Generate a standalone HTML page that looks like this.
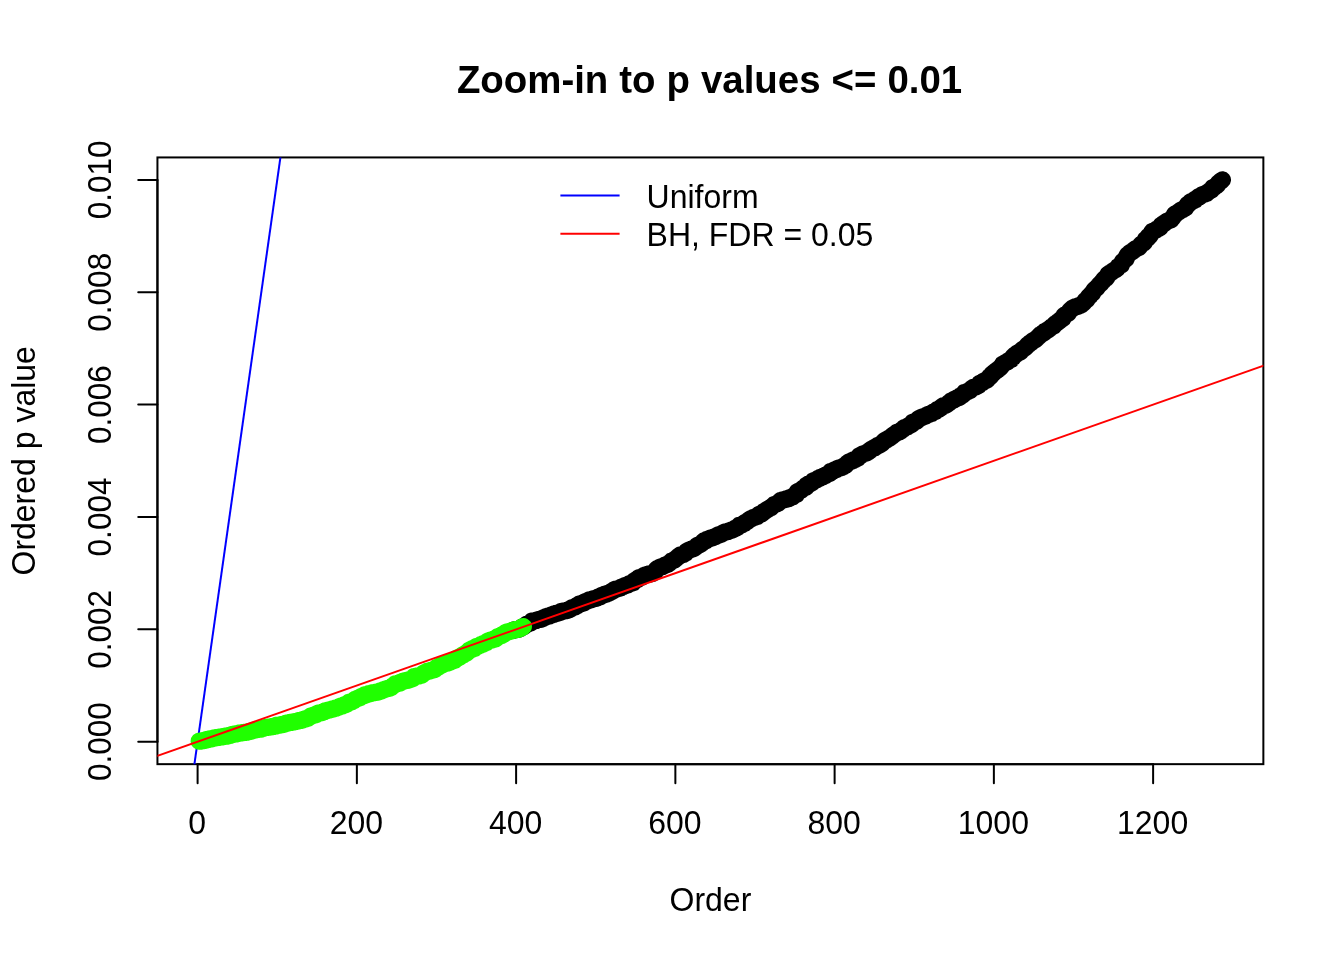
<!DOCTYPE html>
<html lang="en"><head><meta charset="utf-8"><title>Zoom-in to p values &lt;= 0.01</title>
<style>
html,body{margin:0;padding:0;background:#fff;}
body{width:1344px;height:960px;overflow:hidden;}
svg{display:block;will-change:transform;}
text{font-family:"Liberation Sans",Arial,Helvetica,sans-serif;fill:#000;}
.t{font-size:32px;}
.main{font-size:38.4px;font-weight:bold;word-spacing:0.35px;}
.ax{stroke:#000;stroke-width:2;fill:none;stroke-linecap:round;}
.cloud{fill:none;stroke-width:17.3;stroke-linecap:round;stroke-linejoin:round;}
</style></head><body>
<svg width="1344" height="960" viewBox="0 0 1344 960">
<rect x="0" y="0" width="1344" height="960" fill="#ffffff"/>
<defs><clipPath id="plt"><rect x="157.44" y="157.44" width="1105.92" height="606.72"/></clipPath></defs>
<polyline class="cloud" stroke="#000000" points="513.7,630.1 514.5,629.8 515.3,629.7 516.1,629.6 516.9,629.5 517.7,629.3 518.5,629.1 519.3,628.8 520.1,628.6 520.9,627.9 521.7,627.6 522.5,626.8 523.3,626.6 524.1,626.5 524.9,625.7 525.7,625.3 526.5,624.4 527.3,624.1 528.1,623.9 528.9,623.7 529.6,623.1 530.4,623.0 531.2,622.6 532.0,621.2 532.8,621.1 533.6,621.0 534.4,620.8 535.2,620.7 536.0,620.5 536.8,620.1 537.6,619.9 538.4,619.7 539.2,619.5 540.0,619.4 540.8,619.2 541.6,619.1 542.4,619.0 543.2,617.8 544.0,617.7 544.8,617.3 545.6,617.1 546.4,616.5 547.2,616.4 548.0,616.1 548.8,616.0 549.6,615.8 550.4,615.5 551.1,615.1 551.9,614.8 552.7,614.5 553.5,614.3 554.3,613.8 555.1,613.7 555.9,613.5 556.7,613.4 557.5,613.1 558.3,613.0 559.1,612.7 559.9,612.4 560.7,611.7 561.5,611.6 562.3,611.4 563.1,611.1 563.9,610.8 564.7,610.8 565.5,610.7 566.3,610.6 567.1,610.4 567.9,610.1 568.7,609.7 569.5,609.5 570.3,609.1 571.1,608.6 571.8,607.8 572.6,607.5 573.4,607.4 574.2,607.1 575.0,606.9 575.8,606.4 576.6,605.7 577.4,605.5 578.2,604.9 579.0,604.2 579.8,604.1 580.6,603.9 581.4,603.5 582.2,603.2 583.0,603.1 583.8,602.9 584.6,602.1 585.4,601.7 586.2,601.4 587.0,601.1 587.8,600.7 588.6,600.6 589.4,600.0 590.2,599.8 591.0,599.7 591.8,599.6 592.6,599.0 593.3,598.8 594.1,598.6 594.9,598.5 595.7,598.3 596.5,598.0 597.3,597.8 598.1,597.2 598.9,597.0 599.7,596.9 600.5,596.6 601.3,595.7 602.1,595.4 602.9,595.1 603.7,595.0 604.5,594.4 605.3,594.3 606.1,594.1 606.9,593.6 607.7,593.5 608.5,593.4 609.3,592.8 610.1,592.4 610.9,591.8 611.7,591.5 612.5,590.9 613.3,590.8 614.1,589.8 614.8,589.4 615.6,589.3 616.4,589.1 617.2,589.0 618.0,588.5 618.8,588.4 619.6,588.1 620.4,588.0 621.2,587.1 622.0,587.0 622.8,586.7 623.6,586.3 624.4,585.9 625.2,585.6 626.0,585.3 626.8,585.1 627.6,584.9 628.4,584.4 629.2,583.8 630.0,583.6 630.8,583.4 631.6,583.0 632.4,582.8 633.2,582.6 634.0,581.2 634.8,580.7 635.6,580.5 636.3,579.5 637.1,579.2 637.9,579.1 638.7,577.9 639.5,577.6 640.3,577.5 641.1,577.3 641.9,577.1 642.7,576.5 643.5,576.0 644.3,575.3 645.1,575.2 645.9,574.9 646.7,574.7 647.5,574.5 648.3,574.2 649.1,574.0 649.9,573.9 650.7,573.8 651.5,573.7 652.3,573.4 653.1,573.0 653.9,572.2 654.7,571.9 655.5,571.5 656.3,569.3 657.1,568.8 657.8,568.3 658.6,568.1 659.4,567.7 660.2,567.2 661.0,567.0 661.8,566.7 662.6,566.5 663.4,566.1 664.2,565.7 665.0,565.1 665.8,564.9 666.6,564.7 667.4,564.2 668.2,564.0 669.0,563.3 669.8,562.8 670.6,562.1 671.4,561.0 672.2,560.9 673.0,560.5 673.8,560.1 674.6,559.8 675.4,559.2 676.2,558.3 677.0,557.7 677.8,557.2 678.5,556.2 679.3,555.8 680.1,555.2 680.9,555.1 681.7,554.8 682.5,554.5 683.3,554.3 684.1,553.8 684.9,553.3 685.7,553.1 686.5,551.5 687.3,551.1 688.1,550.8 688.9,550.1 689.7,549.9 690.5,549.5 691.3,549.2 692.1,549.0 692.9,548.9 693.7,548.4 694.5,548.1 695.3,547.4 696.1,546.8 696.9,545.8 697.7,545.3 698.5,545.0 699.3,544.8 700.0,544.6 700.8,544.0 701.6,543.4 702.4,542.7 703.2,541.6 704.0,541.0 704.8,540.8 705.6,540.7 706.4,540.5 707.2,539.4 708.0,539.3 708.8,538.9 709.6,538.6 710.4,538.1 711.2,538.0 712.0,537.9 712.8,537.6 713.6,537.2 714.4,537.0 715.2,536.7 716.0,536.2 716.8,535.8 717.6,535.4 718.4,534.9 719.2,534.8 720.0,534.5 720.8,534.3 721.5,534.1 722.3,533.5 723.1,532.8 723.9,532.5 724.7,532.2 725.5,532.1 726.3,531.9 727.1,531.7 727.9,531.5 728.7,531.1 729.5,531.0 730.3,530.5 731.1,530.2 731.9,530.1 732.7,529.6 733.5,529.3 734.3,528.9 735.1,528.4 735.9,528.1 736.7,527.8 737.5,527.5 738.3,526.3 739.1,525.5 739.9,525.3 740.7,525.2 741.5,524.9 742.3,524.2 743.0,524.1 743.8,523.5 744.6,523.3 745.4,522.3 746.2,522.0 747.0,521.6 747.8,521.0 748.6,520.2 749.4,519.6 750.2,519.3 751.0,518.6 751.8,518.4 752.6,518.0 753.4,517.6 754.2,517.5 755.0,517.2 755.8,516.6 756.6,516.4 757.4,516.3 758.2,515.5 759.0,514.4 759.8,514.2 760.6,514.0 761.4,513.9 762.2,513.5 763.0,512.6 763.7,511.6 764.5,511.3 765.3,511.1 766.1,510.4 766.9,509.5 767.7,509.2 768.5,508.9 769.3,508.4 770.1,507.9 770.9,507.6 771.7,507.1 772.5,506.2 773.3,505.7 774.1,504.7 774.9,504.5 775.7,504.0 776.5,503.9 777.3,503.5 778.1,503.2 778.9,502.5 779.7,501.3 780.5,500.7 781.3,500.6 782.1,500.2 782.9,500.1 783.7,499.9 784.5,499.5 785.2,499.4 786.0,499.0 786.8,499.0 787.6,498.8 788.4,498.7 789.2,498.0 790.0,497.8 790.8,497.3 791.6,497.2 792.4,496.9 793.2,496.2 794.0,495.6 794.8,495.1 795.6,494.6 796.4,494.4 797.2,492.0 798.0,491.9 798.8,491.1 799.6,490.9 800.4,490.4 801.2,490.1 802.0,489.3 802.8,488.4 803.6,488.2 804.4,487.8 805.2,487.6 806.0,487.2 806.7,485.1 807.5,484.8 808.3,484.2 809.1,484.0 809.9,483.9 810.7,483.1 811.5,482.9 812.3,482.5 813.1,481.0 813.9,480.8 814.7,480.5 815.5,480.1 816.3,479.9 817.1,479.5 817.9,478.7 818.7,478.6 819.5,478.4 820.3,477.4 821.1,477.3 821.9,477.0 822.7,476.8 823.5,476.2 824.3,476.0 825.1,475.7 825.9,474.8 826.7,474.7 827.5,474.1 828.2,473.8 829.0,473.5 829.8,473.3 830.6,471.6 831.4,471.5 832.2,471.3 833.0,471.2 833.8,470.4 834.6,469.9 835.4,469.8 836.2,469.6 837.0,468.8 837.8,468.3 838.6,468.1 839.4,468.0 840.2,467.9 841.0,467.7 841.8,467.0 842.6,466.7 843.4,466.5 844.2,465.9 845.0,465.6 845.8,465.2 846.6,464.1 847.4,463.2 848.2,462.6 849.0,462.0 849.7,461.9 850.5,461.4 851.3,461.3 852.1,460.7 852.9,460.5 853.7,459.9 854.5,459.7 855.3,459.4 856.1,458.9 856.9,458.6 857.7,458.4 858.5,457.0 859.3,455.8 860.1,455.5 860.9,455.1 861.7,455.0 862.5,454.1 863.3,453.8 864.1,453.6 864.9,453.5 865.7,453.2 866.5,452.9 867.3,452.1 868.1,452.0 868.9,451.4 869.7,450.8 870.4,450.0 871.2,449.4 872.0,448.9 872.8,448.5 873.6,448.1 874.4,447.9 875.2,447.2 876.0,446.5 876.8,446.4 877.6,445.6 878.4,445.5 879.2,445.1 880.0,444.7 880.8,444.2 881.6,443.7 882.4,443.2 883.2,442.2 884.0,441.0 884.8,440.5 885.6,440.3 886.4,440.0 887.2,439.3 888.0,438.9 888.8,438.4 889.6,438.1 890.4,437.4 891.2,436.9 891.9,436.0 892.7,435.8 893.5,434.9 894.3,434.3 895.1,433.8 895.9,433.4 896.7,432.5 897.5,432.3 898.3,432.2 899.1,431.9 899.9,431.5 900.7,431.3 901.5,430.1 902.3,429.7 903.1,429.5 903.9,427.9 904.7,427.6 905.5,427.5 906.3,427.2 907.1,426.9 907.9,426.2 908.7,425.5 909.5,425.4 910.3,425.0 911.1,424.7 911.9,424.2 912.7,422.2 913.4,422.0 914.2,421.9 915.0,421.6 915.8,421.2 916.6,421.1 917.4,420.3 918.2,419.0 919.0,418.5 919.8,418.2 920.6,418.0 921.4,417.4 922.2,417.3 923.0,416.8 923.8,416.5 924.6,416.4 925.4,416.2 926.2,415.4 927.0,415.0 927.8,414.7 928.6,414.6 929.4,414.2 930.2,413.8 931.0,413.5 931.8,413.4 932.6,412.6 933.4,412.1 934.2,411.8 934.9,411.5 935.7,411.3 936.5,410.4 937.3,409.6 938.1,409.4 938.9,409.1 939.7,408.6 940.5,407.8 941.3,407.6 942.1,406.5 942.9,406.0 943.7,405.8 944.5,405.6 945.3,405.5 946.1,405.0 946.9,404.5 947.7,404.1 948.5,403.2 949.3,402.7 950.1,402.0 950.9,401.2 951.7,400.9 952.5,400.4 953.3,400.2 954.1,399.3 954.9,399.0 955.7,398.8 956.4,398.6 957.2,398.0 958.0,397.8 958.8,397.7 959.6,397.2 960.4,396.0 961.2,395.8 962.0,395.0 962.8,394.9 963.6,394.5 964.4,392.6 965.2,392.5 966.0,392.2 966.8,391.9 967.6,391.4 968.4,391.2 969.2,390.7 970.0,390.4 970.8,389.7 971.6,388.6 972.4,388.2 973.2,387.5 974.0,387.3 974.8,387.1 975.6,387.0 976.4,386.6 977.1,386.1 977.9,385.8 978.7,385.5 979.5,383.6 980.3,383.2 981.1,383.0 981.9,382.8 982.7,382.4 983.5,381.1 984.3,380.9 985.1,380.7 985.9,380.5 986.7,380.2 987.5,378.9 988.3,378.7 989.1,377.2 989.9,376.9 990.7,376.4 991.5,374.7 992.3,373.8 993.1,373.6 993.9,372.6 994.7,371.9 995.5,371.4 996.3,370.8 997.1,370.0 997.9,369.6 998.6,369.0 999.4,368.3 1000.2,367.9 1001.0,366.9 1001.8,365.9 1002.6,364.3 1003.4,363.9 1004.2,363.5 1005.0,362.8 1005.8,362.5 1006.6,362.2 1007.4,361.9 1008.2,360.8 1009.0,360.5 1009.8,360.0 1010.6,359.5 1011.4,359.3 1012.2,357.7 1013.0,357.5 1013.8,355.8 1014.6,355.2 1015.4,354.6 1016.2,354.3 1017.0,353.4 1017.8,352.9 1018.6,352.5 1019.4,352.3 1020.1,352.1 1020.9,351.3 1021.7,350.1 1022.5,349.5 1023.3,349.1 1024.1,348.4 1024.9,347.8 1025.7,347.4 1026.5,346.4 1027.3,345.3 1028.1,344.6 1028.9,344.3 1029.7,343.2 1030.5,342.9 1031.3,342.5 1032.1,341.3 1032.9,340.8 1033.7,340.5 1034.5,339.8 1035.3,339.6 1036.1,339.1 1036.9,338.1 1037.7,337.5 1038.5,336.7 1039.3,336.0 1040.1,335.0 1040.9,334.8 1041.6,334.2 1042.4,333.4 1043.2,333.1 1044.0,332.6 1044.8,331.4 1045.6,331.2 1046.4,330.8 1047.2,330.2 1048.0,329.9 1048.8,329.3 1049.6,328.7 1050.4,327.9 1051.2,327.3 1052.0,326.6 1052.8,326.3 1053.6,326.1 1054.4,324.7 1055.2,323.9 1056.0,323.6 1056.8,322.9 1057.6,322.1 1058.4,321.8 1059.2,320.8 1060.0,320.6 1060.8,319.7 1061.6,318.9 1062.4,318.7 1063.1,318.3 1063.9,315.7 1064.7,315.1 1065.5,314.7 1066.3,314.4 1067.1,313.8 1067.9,313.5 1068.7,312.5 1069.5,311.1 1070.3,310.1 1071.1,309.5 1071.9,309.0 1072.7,308.0 1073.5,307.7 1074.3,307.4 1075.1,307.0 1075.9,306.8 1076.7,306.7 1077.5,306.4 1078.3,305.9 1079.1,305.8 1079.9,305.4 1080.7,305.0 1081.5,304.7 1082.3,303.9 1083.1,303.3 1083.8,302.8 1084.6,301.5 1085.4,300.4 1086.2,300.1 1087.0,299.5 1087.8,298.1 1088.6,296.8 1089.4,296.1 1090.2,295.6 1091.0,294.4 1091.8,293.2 1092.6,293.0 1093.4,291.3 1094.2,290.0 1095.0,289.3 1095.8,288.5 1096.6,288.1 1097.4,287.3 1098.2,286.0 1099.0,285.2 1099.8,284.1 1100.6,283.8 1101.4,282.8 1102.2,281.6 1103.0,281.3 1103.8,279.3 1104.6,278.7 1105.3,278.5 1106.1,278.2 1106.9,277.3 1107.7,274.7 1108.5,274.2 1109.3,274.1 1110.1,273.0 1110.9,272.4 1111.7,272.0 1112.5,271.4 1113.3,270.9 1114.1,270.3 1114.9,269.8 1115.7,269.5 1116.5,268.9 1117.3,268.4 1118.1,266.5 1118.9,266.2 1119.7,265.8 1120.5,265.1 1121.3,264.9 1122.1,262.3 1122.9,261.2 1123.7,261.0 1124.5,259.7 1125.3,259.3 1126.1,258.8 1126.8,256.0 1127.6,254.9 1128.4,254.4 1129.2,253.5 1130.0,252.7 1130.8,252.3 1131.6,252.0 1132.4,251.6 1133.2,250.6 1134.0,250.3 1134.8,249.2 1135.6,248.8 1136.4,248.4 1137.2,248.1 1138.0,247.8 1138.8,247.4 1139.6,246.7 1140.4,245.4 1141.2,244.1 1142.0,243.9 1142.8,243.3 1143.6,243.0 1144.4,242.3 1145.2,239.6 1146.0,239.1 1146.8,238.8 1147.6,238.4 1148.3,236.5 1149.1,236.3 1149.9,235.9 1150.7,234.3 1151.5,232.9 1152.3,231.4 1153.1,231.2 1153.9,230.8 1154.7,230.5 1155.5,230.1 1156.3,229.8 1157.1,229.1 1157.9,228.7 1158.7,228.4 1159.5,227.8 1160.3,227.3 1161.1,225.4 1161.9,225.2 1162.7,224.2 1163.5,224.0 1164.3,223.7 1165.1,222.7 1165.9,222.2 1166.7,221.5 1167.5,221.1 1168.3,220.8 1169.1,220.5 1169.8,220.3 1170.6,219.9 1171.4,219.5 1172.2,217.9 1173.0,217.5 1173.8,216.0 1174.6,214.4 1175.4,213.9 1176.2,213.6 1177.0,213.1 1177.8,212.4 1178.6,211.8 1179.4,211.4 1180.2,210.8 1181.0,210.1 1181.8,209.8 1182.6,209.6 1183.4,209.0 1184.2,208.4 1185.0,208.1 1185.8,207.8 1186.6,206.0 1187.4,204.7 1188.2,204.2 1189.0,203.8 1189.8,203.1 1190.5,202.0 1191.3,201.6 1192.1,201.3 1192.9,200.9 1193.7,200.2 1194.5,200.1 1195.3,199.9 1196.1,198.5 1196.9,198.2 1197.7,197.6 1198.5,197.0 1199.3,196.8 1200.1,196.3 1200.9,195.7 1201.7,195.1 1202.5,194.6 1203.3,194.4 1204.1,194.1 1204.9,194.0 1205.7,193.6 1206.5,193.5 1207.3,192.5 1208.1,192.1 1208.9,191.4 1209.7,191.0 1210.5,190.2 1211.3,190.1 1212.0,189.5 1212.8,187.6 1213.6,187.4 1214.4,187.2 1215.2,186.3 1216.0,185.8 1216.8,185.6 1217.6,184.7 1218.4,183.1 1219.2,182.3 1220.0,181.7 1220.8,181.2 1222.4,179.9"/>
<rect class="ax" x="157.44" y="157.44" width="1105.92" height="606.72"/>
<g clip-path="url(#plt)">
<line x1="149.83" y1="1078.76" x2="356.86" y2="-381.87" stroke="#0000FF" stroke-width="2"/>
</g>
<polyline class="cloud" stroke="#20FF00" points="199.2,741.2 200.0,741.2 200.8,741.1 201.6,741.0 202.4,740.7 203.2,740.7 204.0,740.5 204.8,740.4 205.6,740.2 206.4,739.7 207.2,739.6 208.0,739.5 208.8,739.3 209.5,739.0 210.3,739.0 211.1,738.9 211.9,738.7 212.7,738.6 213.5,738.2 214.3,738.0 215.1,737.8 215.9,737.7 216.7,737.7 217.5,737.5 218.3,737.4 219.1,737.3 219.9,737.2 220.7,737.0 221.5,736.9 222.3,736.8 223.1,736.7 223.9,736.5 224.7,736.4 225.5,736.1 226.3,736.0 227.1,736.0 227.9,735.8 228.7,735.7 229.5,735.3 230.3,735.2 231.0,734.9 231.8,734.7 232.6,734.5 233.4,734.4 234.2,734.1 235.0,734.0 235.8,733.9 236.6,733.8 237.4,733.6 238.2,733.4 239.0,733.2 239.8,733.1 240.6,733.0 241.4,732.8 242.2,732.7 243.0,732.6 243.8,732.5 244.6,732.4 245.4,732.3 246.2,732.1 247.0,732.1 247.8,731.8 248.6,731.6 249.4,731.5 250.2,731.4 251.0,731.2 251.7,731.0 252.5,730.6 253.3,730.3 254.1,730.1 254.9,730.0 255.7,729.9 256.5,729.6 257.3,729.5 258.1,729.3 258.9,729.2 259.7,729.1 260.5,729.0 261.3,729.0 262.1,728.6 262.9,728.5 263.7,728.1 264.5,727.9 265.3,727.7 266.1,727.5 266.9,727.4 267.7,727.3 268.5,727.2 269.3,727.1 270.1,727.0 270.9,726.9 271.7,726.7 272.5,726.6 273.2,726.5 274.0,726.3 274.8,726.2 275.6,726.0 276.4,725.4 277.2,725.3 278.0,725.1 278.8,725.1 279.6,725.0 280.4,725.0 281.2,724.7 282.0,724.6 282.8,724.4 283.6,724.3 284.4,724.2 285.2,723.7 286.0,723.3 286.8,723.2 287.6,723.1 288.4,723.0 289.2,722.7 290.0,722.5 290.8,722.4 291.6,722.3 292.4,722.2 293.2,722.0 294.0,721.9 294.7,721.6 295.5,721.5 296.3,721.3 297.1,721.2 297.9,721.0 298.7,720.7 299.5,720.6 300.3,720.5 301.1,720.4 301.9,720.2 302.7,719.5 303.5,719.4 304.3,719.1 305.1,718.9 305.9,718.8 306.7,718.5 307.5,718.2 308.3,718.1 309.1,717.4 309.9,716.7 310.7,716.1 311.5,715.9 312.3,715.8 313.1,715.4 313.9,715.1 314.7,715.0 315.5,714.7 316.2,714.6 317.0,713.7 317.8,713.5 318.6,713.1 319.4,713.0 320.2,712.9 321.0,712.7 321.8,712.6 322.6,711.8 323.4,711.8 324.2,711.7 325.0,711.0 325.8,710.8 326.6,710.7 327.4,710.3 328.2,710.1 329.0,710.0 329.8,709.8 330.6,709.7 331.4,709.4 332.2,709.0 333.0,708.9 333.8,708.8 334.6,708.7 335.4,708.2 336.2,708.2 337.0,707.7 337.7,707.5 338.5,707.2 339.3,706.8 340.1,706.3 340.9,706.1 341.7,706.0 342.5,705.8 343.3,705.5 344.1,704.8 344.9,704.7 345.7,704.5 346.5,704.1 347.3,703.8 348.1,703.1 348.9,702.3 349.7,702.2 350.5,702.1 351.3,701.9 352.1,701.5 352.9,701.0 353.7,700.9 354.5,699.8 355.3,699.3 356.1,699.0 356.9,698.9 357.7,698.3 358.4,698.1 359.2,697.8 360.0,697.6 360.8,696.8 361.6,696.3 362.4,696.1 363.2,696.0 364.0,695.7 364.8,694.9 365.6,694.8 366.4,694.7 367.2,694.6 368.0,694.0 368.8,693.7 369.6,693.7 370.4,693.6 371.2,693.6 372.0,692.9 372.8,692.8 373.6,692.6 374.4,692.6 375.2,692.4 376.0,692.3 376.8,692.2 377.6,692.1 378.4,691.8 379.2,691.3 379.9,691.1 380.7,690.9 381.5,690.8 382.3,690.5 383.1,690.0 383.9,689.8 384.7,689.7 385.5,689.1 386.3,688.8 387.1,688.6 387.9,688.4 388.7,688.3 389.5,688.1 390.3,687.8 391.1,687.5 391.9,686.8 392.7,685.9 393.5,685.5 394.3,685.1 395.1,684.0 395.9,683.8 396.7,683.7 397.5,683.5 398.3,683.3 399.1,683.2 399.9,683.0 400.7,682.1 401.4,682.0 402.2,681.7 403.0,681.3 403.8,681.2 404.6,680.9 405.4,680.6 406.2,680.5 407.0,680.3 407.8,680.3 408.6,679.9 409.4,679.8 410.2,679.7 411.0,679.1 411.8,678.8 412.6,678.7 413.4,678.2 414.2,676.6 415.0,676.5 415.8,676.3 416.6,676.2 417.4,676.1 418.2,676.0 419.0,675.8 419.8,675.5 420.6,675.3 421.4,675.2 422.2,674.8 422.9,673.7 423.7,673.0 424.5,672.7 425.3,672.6 426.1,672.0 426.9,671.5 427.7,671.3 428.5,671.0 429.3,670.9 430.1,670.8 430.9,670.3 431.7,670.2 432.5,670.0 433.3,669.8 434.1,669.7 434.9,669.3 435.7,668.5 436.5,667.7 437.3,667.4 438.1,667.1 438.9,666.6 439.7,665.9 440.5,665.6 441.3,665.1 442.1,664.8 442.9,664.3 443.7,663.9 444.4,663.7 445.2,663.4 446.0,663.3 446.8,663.2 447.6,663.0 448.4,662.9 449.2,662.3 450.0,662.1 450.8,661.5 451.6,661.3 452.4,660.9 453.2,660.8 454.0,660.4 454.8,660.2 455.6,659.5 456.4,658.3 457.2,658.1 458.0,657.9 458.8,657.4 459.6,657.1 460.4,656.5 461.2,656.0 462.0,655.5 462.8,654.8 463.6,654.7 464.4,654.0 465.1,653.8 465.9,653.2 466.7,653.0 467.5,652.2 468.3,651.4 469.1,650.4 469.9,650.1 470.7,649.5 471.5,649.4 472.3,648.7 473.1,648.6 473.9,648.5 474.7,648.4 475.5,647.3 476.3,646.6 477.1,646.3 477.9,646.2 478.7,645.8 479.5,645.6 480.3,645.2 481.1,644.7 481.9,644.4 482.7,644.0 483.5,643.8 484.3,643.5 485.1,643.0 485.9,642.7 486.6,642.5 487.4,641.4 488.2,641.1 489.0,640.6 489.8,640.4 490.6,640.1 491.4,640.0 492.2,639.8 493.0,639.4 493.8,639.3 494.6,639.1 495.4,638.9 496.2,638.4 497.0,637.5 497.8,636.6 498.6,636.5 499.4,636.2 500.2,635.9 501.0,635.7 501.8,635.0 502.6,634.8 503.4,634.2 504.2,633.9 505.0,633.5 505.8,632.4 506.6,632.2 507.4,632.1 508.1,631.8 508.9,631.7 509.7,631.3 510.5,631.1 511.3,631.0 512.1,630.6 512.9,630.5 513.7,630.1 514.5,629.8 515.3,629.7 516.1,629.6 516.9,629.5 517.7,629.3 518.5,629.1 519.3,628.8 520.1,628.6 520.9,627.9 521.7,627.6 522.5,626.8 523.3,626.6"/>
<g clip-path="url(#plt)">
<line x1="149.83" y1="758.54" x2="1312.38" y2="348.44" stroke="#FF0000" stroke-width="2"/>
</g>
<path class="ax" d="M197.60 764.16H1153.12"/>
<path class="ax" d="M197.60 764.16v19.2"/>
<text class="t" transform="translate(197.10 833.80) scale(1.0000 1.0450)" text-anchor="middle">0</text>
<path class="ax" d="M356.86 764.16v19.2"/>
<text class="t" transform="translate(356.36 833.80) scale(1.0000 1.0450)" text-anchor="middle">200</text>
<path class="ax" d="M516.11 764.16v19.2"/>
<text class="t" transform="translate(515.61 833.80) scale(1.0000 1.0450)" text-anchor="middle">400</text>
<path class="ax" d="M675.36 764.16v19.2"/>
<text class="t" transform="translate(674.86 833.80) scale(1.0000 1.0450)" text-anchor="middle">600</text>
<path class="ax" d="M834.62 764.16v19.2"/>
<text class="t" transform="translate(834.12 833.80) scale(1.0000 1.0450)" text-anchor="middle">800</text>
<path class="ax" d="M993.87 764.16v19.2"/>
<text class="t" transform="translate(993.37 833.80) scale(1.0000 1.0450)" text-anchor="middle">1000</text>
<path class="ax" d="M1153.12 764.16v19.2"/>
<text class="t" transform="translate(1152.62 833.80) scale(1.0000 1.0450)" text-anchor="middle">1200</text>
<path class="ax" d="M157.44 741.69V179.91"/>
<path class="ax" d="M157.44 741.69h-19.2"/>
<text class="t" transform="translate(111.00 741.69) rotate(-90) scale(0.9850 1.0450)" text-anchor="middle">0.000</text>
<path class="ax" d="M157.44 629.33h-19.2"/>
<text class="t" transform="translate(111.00 629.33) rotate(-90) scale(0.9850 1.0450)" text-anchor="middle">0.002</text>
<path class="ax" d="M157.44 516.98h-19.2"/>
<text class="t" transform="translate(111.00 516.98) rotate(-90) scale(0.9850 1.0450)" text-anchor="middle">0.004</text>
<path class="ax" d="M157.44 404.62h-19.2"/>
<text class="t" transform="translate(111.00 404.62) rotate(-90) scale(0.9850 1.0450)" text-anchor="middle">0.006</text>
<path class="ax" d="M157.44 292.27h-19.2"/>
<text class="t" transform="translate(111.00 292.27) rotate(-90) scale(0.9850 1.0450)" text-anchor="middle">0.008</text>
<path class="ax" d="M157.44 179.91h-19.2"/>
<text class="t" transform="translate(111.00 179.91) rotate(-90) scale(0.9850 1.0450)" text-anchor="middle">0.010</text>
<text class="main" transform="translate(709.50 93.00) scale(1.0000 1.0300)" text-anchor="middle">Zoom-in to p values &lt;= 0.01</text>
<text class="t" transform="translate(710.40 910.80) scale(1.0000 1.0300)" text-anchor="middle">Order</text>
<text class="t" transform="translate(35.20 460.80) rotate(-90) scale(1.0000 1.0300)" text-anchor="middle">Ordered p value</text>
<line x1="560.4" y1="195.4" x2="619.6" y2="195.4" stroke="#0000FF" stroke-width="2"/>
<line x1="560.4" y1="233.8" x2="619.6" y2="233.8" stroke="#FF0000" stroke-width="2"/>
<text class="t" transform="translate(646.60 207.80) scale(1.0000 1.0300)" text-anchor="start">Uniform</text>
<text class="t" transform="translate(646.60 245.80) scale(1.0000 1.0300)" text-anchor="start">BH, FDR = 0.05</text>
</svg></body></html>
